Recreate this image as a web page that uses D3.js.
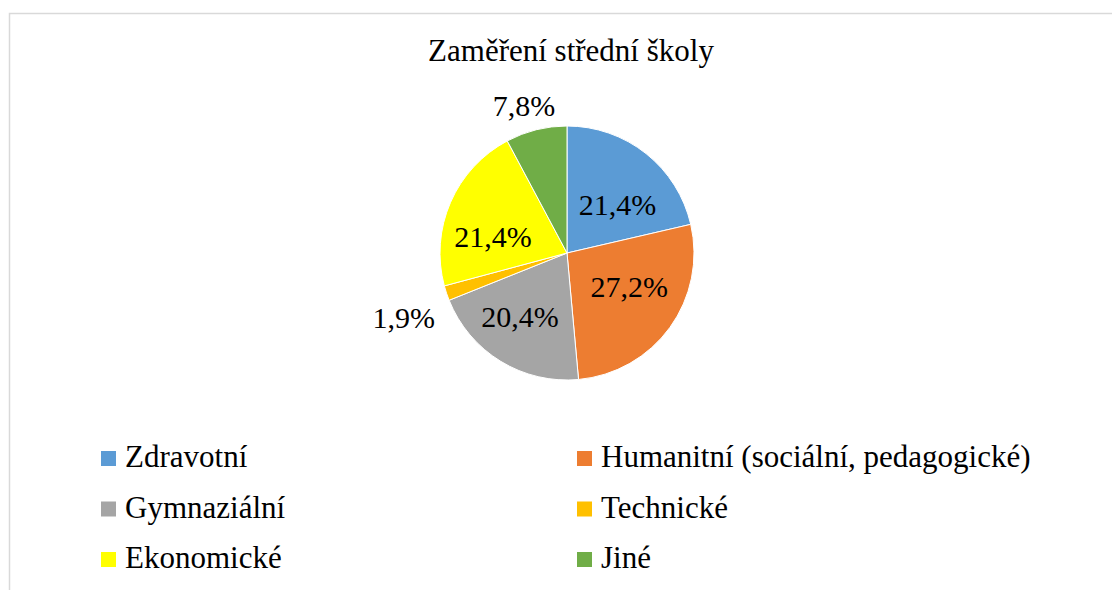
<!DOCTYPE html>
<html>
<head>
<meta charset="utf-8">
<script src="https://cdn.jsdelivr.net/npm/d3@7"></script>
<style>
  html, body { margin: 0; padding: 0; background: #fff; }
  svg { display: block; }
  svg text { font-family: 'Liberation Serif', 'DejaVu Serif', 'Times New Roman', Times, serif; }
</style>
</head>
<body>
<svg id="chart" width="1112" height="590"></svg>
<script>
const title = "Zaměření střední školy";
const categories = ["Zdravotní", "Humanitní (sociální, pedagogické)", "Gymnaziální", "Technické", "Ekonomické", "Jiné"];
const values = [21.4, 27.2, 20.4, 1.9, 21.4, 7.8];
const labels = ["21,4%", "27,2%", "20,4%", "1,9%", "21,4%", "7,8%"];
const colors = ["#5B9BD5", "#ED7D31", "#A5A5A5", "#FFC000", "#FFFF00", "#70AD47"];

const FONT = "'Liberation Serif', 'DejaVu Serif', serif";
const svg = d3.select("#chart");
const W = 1112, H = 590;

// chart area border (extends beyond right/bottom edges)
svg.append("rect")
  .attr("x", 9.5).attr("y", 13.5)
  .attr("width", W + 20).attr("height", H + 20)
  .attr("fill", "#fff")
  .attr("stroke", "#d9d9d9").attr("stroke-width", 1.5);

svg.append("text")
  .attr("x", 571).attr("y", 61)
  .attr("text-anchor", "middle")
  .attr("font-family", FONT)
  .attr("font-size", 31)
  .attr("fill", "#000")
  .text(title);

const cx = 567, cy = 253, R = 127;
const g = svg.append("g").attr("transform", `translate(${cx},${cy})`);

const pie = d3.pie().sort(null).value(d => d)(values);
const arc = d3.arc().innerRadius(0).outerRadius(R);

g.selectAll("path.slice").data(pie).join("path")
  .attr("class", "slice")
  .attr("d", arc)
  .attr("fill", (d, i) => colors[i])
  .attr("stroke", "#fff").attr("stroke-width", 1);

// label placement (inside labels on centroid arc, small slices outside)
const inArc = d3.arc().innerRadius(73).outerRadius(73);
const outArc = d3.arc().innerRadius(R + 22).outerRadius(R + 22);
const nudge = [[5, 9], [3, -9], [-9, 2], [-22, 18], [-7, 13], [-7, -2]];
g.selectAll("text.lbl").data(pie).join("text")
  .attr("class", "lbl")
  .attr("transform", (d, i) => {
    const p = (values[i] < 10 ? outArc : inArc).centroid(d);
    return `translate(${p[0] + nudge[i][0]},${p[1] + nudge[i][1]})`;
  })
  .attr("text-anchor", "middle")
  .attr("dy", "0.33em")
  .attr("font-family", FONT)
  .attr("font-size", 30)
  .attr("fill", "#000")
  .text((d, i) => labels[i]);

// legend: two columns, three rows
const colX = d3.scaleOrdinal().domain([0, 1]).range([101, 577]);
const rowY = d3.scaleLinear().domain([0, 2]).range([451, 552]);
const lg = svg.append("g").selectAll("g").data(categories).join("g")
  .attr("transform", (d, i) => `translate(${colX(i % 2)},${rowY(Math.floor(i / 2))})`);
lg.append("rect").attr("width", 15).attr("height", 15).attr("fill", (d, i) => colors[i]);
lg.append("text")
  .attr("x", 24).attr("y", 16)
  .attr("font-family", FONT)
  .attr("font-size", 31)
  .attr("fill", "#000")
  .text(d => d);
</script>
</body>
</html>
